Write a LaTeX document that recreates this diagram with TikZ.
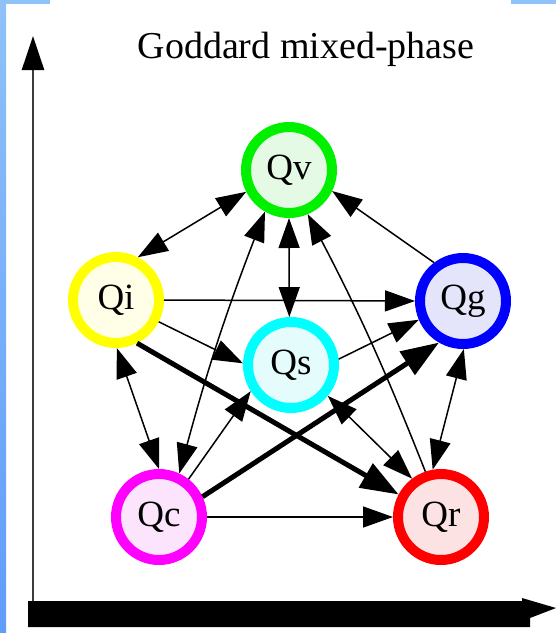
\documentclass[tikz,border=0pt]{standalone}
\usepackage{fontspec}
\setmainfont{Liberation Serif}
\usetikzlibrary{arrows.meta}
\definecolor{bluelight}{RGB}{142,194,248}
\definecolor{bluedark}{RGB}{96,156,250}
\definecolor{ringv}{RGB}{0,240,0}\definecolor{fillv}{RGB}{228,250,228}
\definecolor{ringi}{RGB}{255,255,0}\definecolor{filli}{RGB}{255,255,232}
\definecolor{ringg}{RGB}{0,0,255}\definecolor{fillg}{RGB}{228,228,250}
\definecolor{rings}{RGB}{0,255,255}\definecolor{fills}{RGB}{228,252,252}
\definecolor{ringc}{RGB}{255,0,255}\definecolor{fillc}{RGB}{252,228,252}
\definecolor{ringr}{RGB}{255,0,0}\definecolor{fillr}{RGB}{252,226,226}
\definecolor{axisgray}{RGB}{60,60,60}
\begin{document}
\begin{tikzpicture}[x=1pt,y=-1pt,
  statenode/.style={circle,line width=10pt,minimum size=86pt,inner sep=0pt,
    font=\fontsize{37}{42}\selectfont},
  ln/.style={line width=1.5pt,black},
  lnthick/.style={line width=5pt,black},
  >={Triangle[length=30pt,width=21pt]},
  bigtip/.tip={Triangle[length=38pt,width=27pt]}]
\useasboundingbox (0,0) rectangle (556,633);
\fill[white] (0,0) rectangle (556,633);
% slide border
\shade[top color=bluelight,bottom color=bluedark] (0,0) rectangle (6,633);
\fill[bluelight] (0,0) rectangle (50,4);
\fill[bluelight] (511,0) rectangle (556,4);
% axes
\coordinate (ytop) at (33,36);
\coordinate (ybase) at (33,601);
\draw[line width=2.5pt,axisgray,-{Triangle[length=34pt,width=22pt,color=black]}] (ybase) -- (ytop);
\fill[black] (28,601) -- (522,601) -- (522,598) -- (556,608) -- (530,618) -- (530,627) -- (28,627) -- cycle;
% title
\node[anchor=base,font=\fontsize{38}{44}\selectfont] (title) at (306,58) {Goddard mixed-phase};
% states
\node[statenode,draw=ringv,fill=fillv] (qv) at (289,170) {Qv};
\node[statenode,draw=ringi,fill=filli] (qi) at (116,300) {Qi};
\node[statenode,draw=ringg,fill=fillg] (qg) at (463,301) {Qg};
\node[statenode,draw=rings,fill=fills] (qs) at (291,365) {Qs};
\node[statenode,draw=ringc,fill=fillc] (qc) at (159,517) {Qc};
\node[statenode,draw=ringr,fill=fillr] (qr) at (441,517) {Qr};
% transitions
\draw[ln,<->] (qi.63) -- (qv.207);
\draw[ln,<->] (qv.270) -- (qs.92);
\draw[ln,->] (qg.127) -- (qv.334);
\draw[ln,<->] (qc.65) to[bend left=3] (qv.240);
\draw[ln,->] (qr.109) to[bend right=3] (qv.293);
\draw[ln,->] (qi.0) -- (qg.180);
\draw[ln,->] (qi.333) -- (qs.178);
\draw[lnthick,-bigtip] (qi.296) -- (qr.152);
\draw[ln,<->] (qi.271) -- (qc.90);
\draw[ln,->] (qc.52) -- (qs.213);
\draw[lnthick,-bigtip] (qc.25) -- (qg.240);
\draw[ln,->] (qc.0) -- (qr.180);
\draw[ln,->] (qs.7) -- (qg.203);
\draw[ln,<->] (qs.320) -- (qr.127);
\draw[ln,<->] (qg.271) -- (qr.100);
\end{tikzpicture}
\end{document}
